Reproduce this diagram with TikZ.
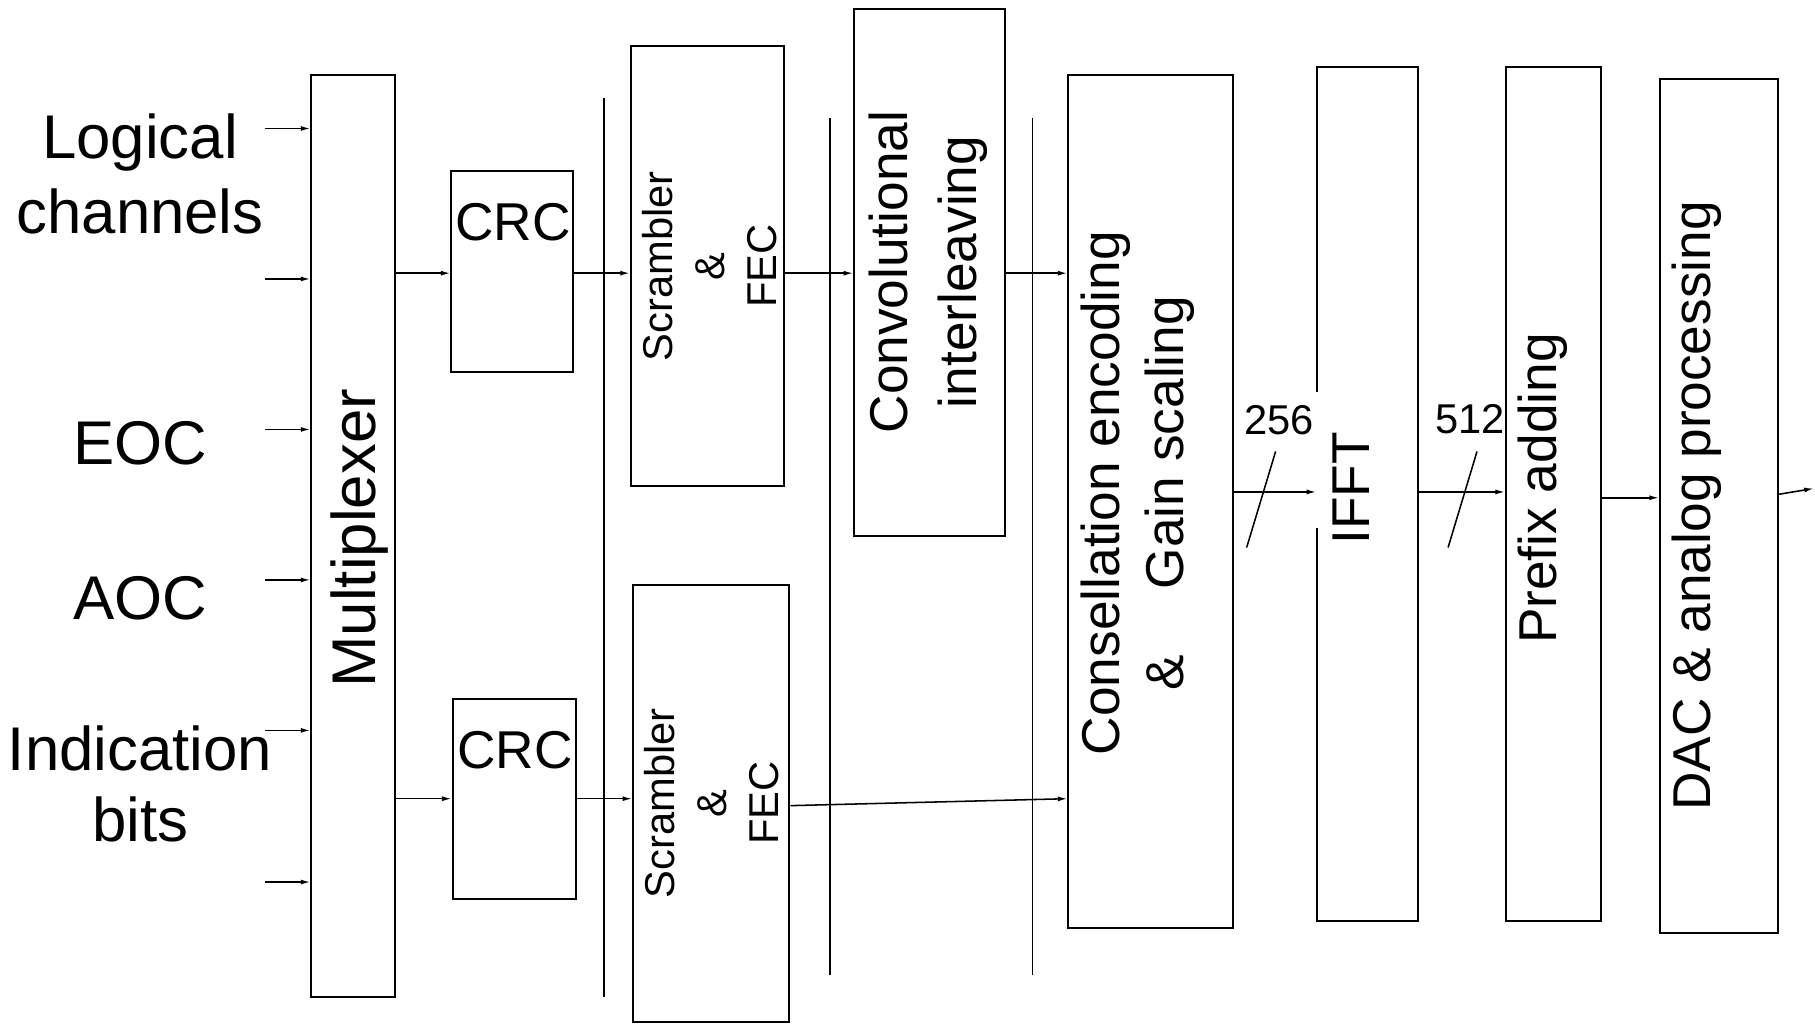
\documentclass[tikz,border=0pt]{standalone}
\usepackage{fontspec}
\setmainfont{Liberation Sans}
\usetikzlibrary{arrows.meta}
\newcommand\mkblk[5]{\node[blk,minimum width={(#4-#2)*0.6pt},minimum height={(#5-#3)*0.6pt}] (#1) at ({(#2+#4)/2},{(#3+#5)/2}) {};}
\begin{document}
\begin{tikzpicture}[x=0.6pt,y=-0.6pt,
 blk/.style={draw,line width=1pt,inner sep=0pt},
 arr/.style={line width=0.8pt,-{Latex[length=5pt,width=2.6pt]}},
 bar/.style={line width=1pt},
 slash/.style={line width=0.8pt},
 lbl/.style={font=\fontsize{32}{39}\selectfont,align=center,inner sep=0pt},
 big/.style={font=\fontsize{27.6}{36}\selectfont,align=center,inner sep=0pt,rotate=90},
 mid/.style={font=\fontsize{27.6}{33}\selectfont,align=center,inner sep=0pt,rotate=90},
 small/.style={font=\fontsize{21.6}{27}\selectfont,align=center,inner sep=0pt,rotate=90},
 num/.style={font=\fontsize{21.6}{26}\selectfont,inner sep=0pt},
]
\useasboundingbox (0,0) rectangle (1568,884);
\fill[white] (0,0) rectangle (1568,884);

% blocks
\mkblk{mux}{269}{65}{341}{861}
\mkblk{crc1}{390}{148}{495}{321}
\mkblk{crc2}{391}{604}{498}{777}
\mkblk{scr1}{545}{40}{677}{420}
\mkblk{scr2}{547}{505}{682}{883}
\mkblk{conv}{738}{8}{868}{463}
\mkblk{cons}{923}{65}{1065}{802}
\mkblk{ifft}{1138}{58}{1225}{796}
\mkblk{pref}{1301}{58}{1383}{796}
\mkblk{dac}{1434}{68}{1536}{806}

% texts
\node[lbl] (tlog) at (121,150) {Logical\\channels};
\node[lbl] (teoc) at (121,383) {EOC};
\node[lbl] (taoc) at (121,517) {AOC};
\node[lbl,font=\fontsize{32}{37}\selectfont] (tind) at (121,677) {Indication\\bits};
\node[lbl,rotate=90] (tmux) at (311,465) {Multiplexer};
\node[inner sep=0pt,font=\fontsize{27.6}{33}\selectfont] (tcrc1) at (443,192) {CRC};
\node[inner sep=0pt,font=\fontsize{27.6}{33}\selectfont] (tcrc2) at (445,648) {CRC};
\node[small] (tscr1) at (613,230) {Scrambler\\\&\\FEC};
\node[small] (tscr2) at (615,694) {Scrambler\\\&\\FEC};
\node[big] (tconv) at (802,235) {Convolutional\\interleaving};
\node[mid] (tcons) at (983,426) {Consellation encoding\\\&\hspace{34pt}Gain scaling};
\node[mid] (tifft) at (1167,422) {IFFT};
\node[mid] (tpref) at (1333,422) {Prefix adding};
\node[mid] (tdac) at (1466,437) {DAC \& analog processing};

% gap behind the 256 label
\fill[white] (1130,339) rectangle (1146,456);
\node[num] (n256) at (1105,363) {256};
\node[num] (n512) at (1270,362) {512};

% input arrows
\foreach \i/\y in {1/111,2/241,3/371,4/501,5/631,6/762}{
  \coordinate (in\i) at (229,\y);
  \draw[arr] (in\i) -- (in\i -| mux.west);
}

% vertical bars
\coordinate (v1t) at (522,85);  \coordinate (v1b) at (522,861);
\coordinate (v2t) at (717,102); \coordinate (v2b) at (717,842);
\coordinate (v3t) at (892,102); \coordinate (v3b) at (892,842);
\draw[bar] (v1t) -- (v1b);
\draw[bar] (v2t) -- (v2b);
\draw[bar] (v3t) -- (v3b);

% rows
\coordinate (rA) at (0,236);
\coordinate (rB) at (0,690);
\coordinate (rB2) at (0,696);
\coordinate (rC) at (0,425);
\coordinate (rD) at (0,430);
\coordinate (rE) at (0,427);

\draw[arr] (mux.east |- rA) -- (crc1.west |- rA);
\draw[arr] (crc1.east |- rA) -- (scr1.west |- rA);
\draw[arr] (scr1.east |- rA) -- (conv.west |- rA);
\draw[arr] (conv.east |- rA) -- (cons.west |- rA);

\draw[arr] (mux.east |- rB) -- (crc2.west |- rB);
\draw[arr] (crc2.east |- rB) -- (scr2.west |- rB);
\draw[arr] (scr2.east |- rB2) -- (cons.west |- rB);

\draw[arr] (cons.east |- rC) -- (ifft.west |- rC);
\draw[arr] (ifft.east |- rC) -- (pref.west |- rC);
\draw[arr] (pref.east |- rD) -- (dac.west |- rD);
\coordinate (out) at (1567,422);
\draw[arr] (dac.east |- rE) -- (out);

% bus slashes
\coordinate (s1a) at (1077,473); \coordinate (s1b) at (1102,390);
\coordinate (s2a) at (1251,473); \coordinate (s2b) at (1276,390);
\draw[slash] (s1a) -- (s1b);
\draw[slash] (s2a) -- (s2b);
\end{tikzpicture}
\end{document}
